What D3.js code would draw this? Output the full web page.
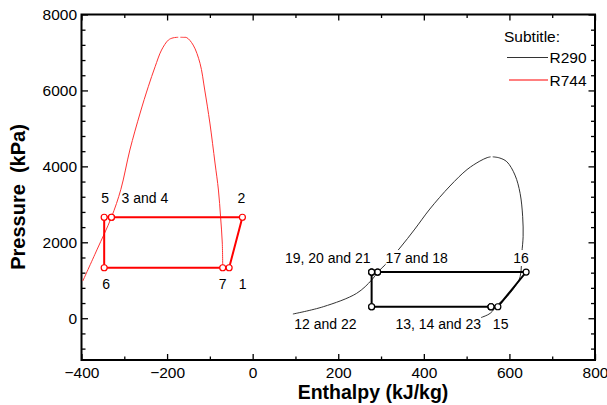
<!DOCTYPE html>
<html>
<head>
<meta charset="utf-8">
<script src="https://cdn.jsdelivr.net/npm/d3@7"></script>
<style>
  body { margin: 0; background: #fff; }
  svg text { font-family: 'Liberation Sans', Arial, sans-serif; }
</style>
</head>
<body>
<div id="chart"></div>
<script>
// R744 cycle states
const r744States = ["1", "2", "3", "4", "5", "6", "7"];
const r744H = [-55, -24, -330, -330, -347, -347, -70];
const r744P = [1330, 2660, 2660, 2660, 2660, 1330, 1330];

// R290 cycle states 12..23
const r290States = ["12", "13", "14", "15", "16", "17", "18", "19", "20", "21", "22", "23"];
const r290H = [278, 557, 557, 573, 639, 292, 292, 278, 278, 278, 278, 557];
const r290P = [303, 303, 303, 303, 1217, 1217, 1217, 1217, 1217, 1217, 303, 303];

// saturation domes (liquid side / vapour side)
const r744LiqH = [-397, -364, -330, -308, -287, -263, -244, -228, -213, -197, -186, -174];
const r744LiqP = [980, 1800, 2660, 3395, 4430, 5404, 6097, 6624, 7063, 7327, 7385, 7400];
const r744VapH = [-169, -162, -154, -139, -123, -112, -100, -88, -80, -75, -71, -70];
const r744VapP = [7400, 7398, 7390, 7195, 6713, 6010, 5141, 4088, 3377, 2673, 1981, 1330];

const r290LiqH = [94, 165, 243, 278, 292, 309, 344, 379, 414, 461, 501, 531, 548, 556];
const r290LiqP = [111, 303, 656, 1006, 1211, 1401, 1849, 2349, 2876, 3482, 3916, 4139, 4230, 4251];
const r290VapH = [561, 576, 594, 613, 625, 631, 632, 629, 625, 613, 594, 574, 555, 531, 508];
const r290VapP = [4251, 4225, 4122, 3771, 3289, 2673, 2146, 1717, 1093, 830, 566, 374, 129, 5, -100];

const xTicks = [-400, -200, 0, 200, 400, 600, 800];
const yTicks = [0, 2000, 4000, 6000, 8000];

const seriesNames = ["R290", "R744"];
const legendTitle = "Subtitle:";

// label placement: text, series, state index, anchor, pixel offset
const labels = [
  { text: "5", s: "R744", i: 4, anchor: "middle", dx: 1, dy: -14 },
  { text: "3 and 4", s: "R744", i: 2, anchor: "start", dx: 10, dy: -14 },
  { text: "2", s: "R744", i: 1, anchor: "middle", dx: -1, dy: -14 },
  { text: "6", s: "R744", i: 5, anchor: "middle", dx: 2, dy: 21.5 },
  { text: "7", s: "R744", i: 6, anchor: "middle", dx: 0, dy: 21.5 },
  { text: "1", s: "R744", i: 0, anchor: "middle", dx: 13.5, dy: 21.5 },
  { text: "19, 20 and 21", s: "R290", i: 7, anchor: "end", dx: -1, dy: -9 },
  { text: "17 and 18", s: "R290", i: 5, anchor: "start", dx: 8, dy: -9 },
  { text: "16", s: "R290", i: 4, anchor: "middle", dx: -5, dy: -9 },
  { text: "12 and 22", s: "R290", i: 0, anchor: "end", dx: -15, dy: 22 },
  { text: "13, 14 and 23", s: "R290", i: 1, anchor: "end", dx: -10, dy: 22 },
  { text: "15", s: "R290", i: 3, anchor: "start", dx: -5, dy: 22 }
];

const width = 607, height = 405;
const margin = { top: 14.5, right: 12, bottom: 45, left: 81.5 };

const svg = d3.select("#chart").append("svg")
    .attr("width", width)
    .attr("height", height);

const x = d3.scaleLinear().domain([-400, 800]).range([margin.left, width - margin.right]);
const y = d3.scaleLinear().domain([-1100, 8000]).range([height - margin.bottom, margin.top]);

const zip = (hs, ps) => hs.map((h, k) => [h, ps[k]]);
const line = d3.line().x(d => x(d[0])).y(d => y(d[1]));
const smooth = d3.line().x(d => x(d[0])).y(d => y(d[1])).curve(d3.curveCatmullRom.alpha(0.5));

// minor / major ticks on all four sides, pointing inward
const xMinor = d3.range(-400, 801, 100).filter(v => v % 200 !== 0);
const yMinor = d3.range(-800, 8001, 400).filter(v => v % 2000 !== 0);

function tickAxes(g, axisFn, scale, vals, size, fmt, pad) {
  const a = axisFn(scale).tickValues(vals).tickSize(-size).tickPadding(pad || 3);
  a.tickFormat(fmt || (() => ""));
  g.call(a);
  g.select(".domain").remove();
  g.selectAll(".tick line").attr("stroke", "#000").attr("stroke-width", 1.3);
  return g;
}

const bottom = height - margin.bottom, right = width - margin.right;

const gx = svg.append("g").attr("transform", `translate(0,${bottom})`);
tickAxes(gx, d3.axisBottom, x, xTicks, 6, d3.format("d"), 7);
gx.selectAll("text").attr("font-size", 15.5).attr("fill", "#000");
tickAxes(svg.append("g").attr("transform", `translate(0,${bottom})`), d3.axisBottom, x, xMinor, 3.5);
tickAxes(svg.append("g").attr("transform", `translate(0,${margin.top})`), d3.axisTop, x, xTicks, 6);
tickAxes(svg.append("g").attr("transform", `translate(0,${margin.top})`), d3.axisTop, x, xMinor, 3.5);

const gy = svg.append("g").attr("transform", `translate(${margin.left},0)`);
tickAxes(gy, d3.axisLeft, y, yTicks, 6.5, d3.format("d"), 4.5);
gy.selectAll("text").attr("font-size", 15.5).attr("fill", "#000");
tickAxes(svg.append("g").attr("transform", `translate(${margin.left},0)`), d3.axisLeft, y, yMinor, 4);
tickAxes(svg.append("g").attr("transform", `translate(${right},0)`), d3.axisRight, y, yTicks, 6.5);
tickAxes(svg.append("g").attr("transform", `translate(${right},0)`), d3.axisRight, y, yMinor, 4);

svg.append("rect")
    .attr("x", margin.left).attr("y", margin.top)
    .attr("width", right - margin.left).attr("height", bottom - margin.top)
    .attr("fill", "none").attr("stroke", "#000").attr("stroke-width", 2);

// axis titles
svg.append("text")
    .attr("x", 373).attr("y", 399)
    .attr("text-anchor", "middle")
    .attr("font-size", 19.5).attr("font-weight", "bold")
    .text("Enthalpy (kJ/kg)");

svg.append("text")
    .attr("transform", "translate(25,197) rotate(-90)")
    .attr("text-anchor", "middle")
    .attr("font-size", 20).attr("font-weight", "bold")
    .attr("xml:space", "preserve")
    .style("white-space", "pre")
    .text("Pressure  (kPa)");

const colors = { R290: "#333", R744: "#ff0000" };

// domes
const domes = [
  { s: "R744", pts: zip(r744LiqH, r744LiqP) },
  { s: "R744", pts: zip(r744VapH, r744VapP) },
  { s: "R290", pts: zip(r290LiqH, r290LiqP) },
  { s: "R290", pts: zip(r290VapH, r290VapP) }
];
svg.append("g").selectAll("path")
  .data(domes)
  .enter().append("path")
    .attr("d", d => smooth(d.pts))
    .attr("fill", "none")
    .attr("stroke", d => d.s === "R744" ? "#ff3333" : "#333")
    .attr("stroke-width", 1);

// cycles
const cycles = {
  R744: zip(r744H, r744P),
  R290: zip(r290H, r290P)
};
for (const s of seriesNames) {
  const pts = cycles[s];
  svg.append("path")
      .attr("d", line(pts.concat([pts[0]])))
      .attr("fill", "none")
      .attr("stroke", s === "R744" ? "#ff0000" : "#000")
      .attr("stroke-width", 2);
  svg.append("g").selectAll("circle")
    .data(pts)
    .enter().append("circle")
      .attr("cx", d => x(d[0]))
      .attr("cy", d => y(d[1]))
      .attr("r", 3)
      .attr("fill", "#fff")
      .attr("stroke", s === "R744" ? "#ff0000" : "#000")
      .attr("stroke-width", 1.2);
}

// state labels with white background
const lg = svg.append("g");
labels.forEach(l => {
  const p = cycles[l.s][l.i];
  const g = lg.append("g");
  const t = g.append("text")
      .attr("x", x(p[0]) + l.dx)
      .attr("y", y(p[1]) + l.dy)
      .attr("text-anchor", l.anchor)
      .attr("font-size", 14)
      .attr("fill", "#000")
      .text(l.text);
  const b = t.node().getBBox();
  g.insert("rect", "text")
      .attr("x", b.x).attr("y", b.y)
      .attr("width", b.width).attr("height", b.height)
      .attr("fill", "#fff");
});

// legend
svg.append("text")
    .attr("x", 504).attr("y", 42)
    .attr("font-size", 15.5)
    .text(legendTitle);
const legendY = [57.5, 80];
const legendX0 = [507, 509];
seriesNames.forEach((s, k) => {
  svg.append("line")
      .attr("x1", legendX0[k]).attr("x2", 548)
      .attr("y1", legendY[k]).attr("y2", legendY[k])
      .attr("stroke", colors[s])
      .attr("stroke-width", 1.2);
  svg.append("text")
      .attr("x", 549.5).attr("y", legendY[k] + 5.5)
      .attr("font-size", 15.5)
      .text(s);
});
</script>
</body>
</html>
